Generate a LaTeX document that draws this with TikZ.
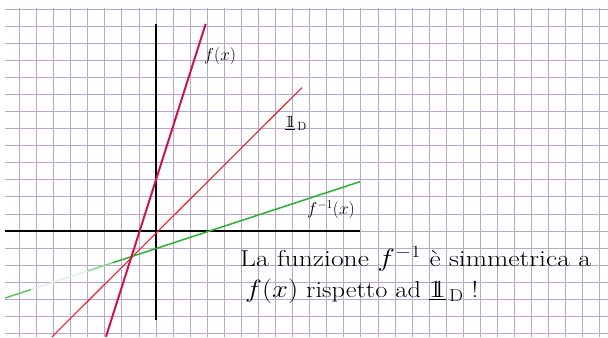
\documentclass[tikz,border=0pt]{standalone}
\usetikzlibrary{calc}
\definecolor{gridc}{RGB}{188,164,208}
\definecolor{fcol}{RGB}{204,20,78}
\definecolor{idcol}{RGB}{236,32,32}
\definecolor{gcol}{RGB}{40,178,45}
\newcommand{\identD}{$\underline{1\!\!1}_{\,\mathrm{D}}$}
\begin{document}
\begin{tikzpicture}[x=17.07pt,y=17.07pt,
  gridline/.style={gridc,line width=0.8pt},
  axisline/.style={black,line width=1.6pt},
  fline/.style={fcol,line width=2pt},
  idline/.style={idcol,line width=1.1pt},
  gline/.style={gcol,line width=1.5pt},
  lbl/.style={inner sep=0pt,font=\fontsize{17}{19}\selectfont},
  txt/.style={inner sep=0pt,anchor=base west,font=\fontsize{23}{26}\selectfont}]
\useasboundingbox[fill=white] (-9.139,-6.210) rectangle (26.479,13.533);
% grid
\foreach \j in {-6,...,13} \draw[gridline] (-8.85,\j) -- (26.479,\j);
\foreach \i in {-8,...,26} \draw[gridline] (\i,13.06) -- (\i,-6.21);
% axes
\coordinate (yt) at (0,12.1);
\coordinate (yb) at (0,-5.2);
\coordinate (xl) at (-8.85,0);
\coordinate (xr) at (11.95,0);
\draw[axisline] (yb) -- (yt);
\draw[axisline] (xl) -- (xr);
% identity
\coordinate (idb) at (-6.1,-6.21);
\coordinate (idt) at (8.55,8.4);
\draw[idline] (idb) -- (idt);
% inverse (green)
\coordinate (gl) at (-8.85,-3.93);
\coordinate (gr) at (11.95,2.89);
\coordinate (g1) at ($(gl)!0.0745!(gr)$);
\coordinate (g2) at ($(gl)!0.233!(gr)$);
\coordinate (g3) at ($(gl)!0.305!(gr)$);
\draw[gline,draw=gcol!75] (gl) -- (g1);
\draw[gline,draw=gcol!15] (g1) -- (g2);
\draw[gline,draw=gcol!55] (g2) -- (g3);
\draw[gline] (g3) -- (gr);
% f
\coordinate (fb) at (-2.93,-6.19);
\coordinate (ft) at (2.91,12.13);
\draw[fline] (fb) -- (ft);
% labels
\node[lbl] (lf) at (3.75,10.25) {$f(x)$};
\node[lbl] (lid) at (8.2,6.3) {\identD};
\node[lbl] (linv) at (10.25,1.25) {$f^{-1}(x)$};
\node[txt] (t1) at (4.92,-2.09) {\scalebox{1.2}[1]{La funzione $f^{-1}$ è simmetrica a}};
\node[txt] (t2) at (5.21,-3.92) {\scalebox{1.15}[1]{$f(x)$ rispetto ad \identD\ !}};
\end{tikzpicture}
\end{document}
